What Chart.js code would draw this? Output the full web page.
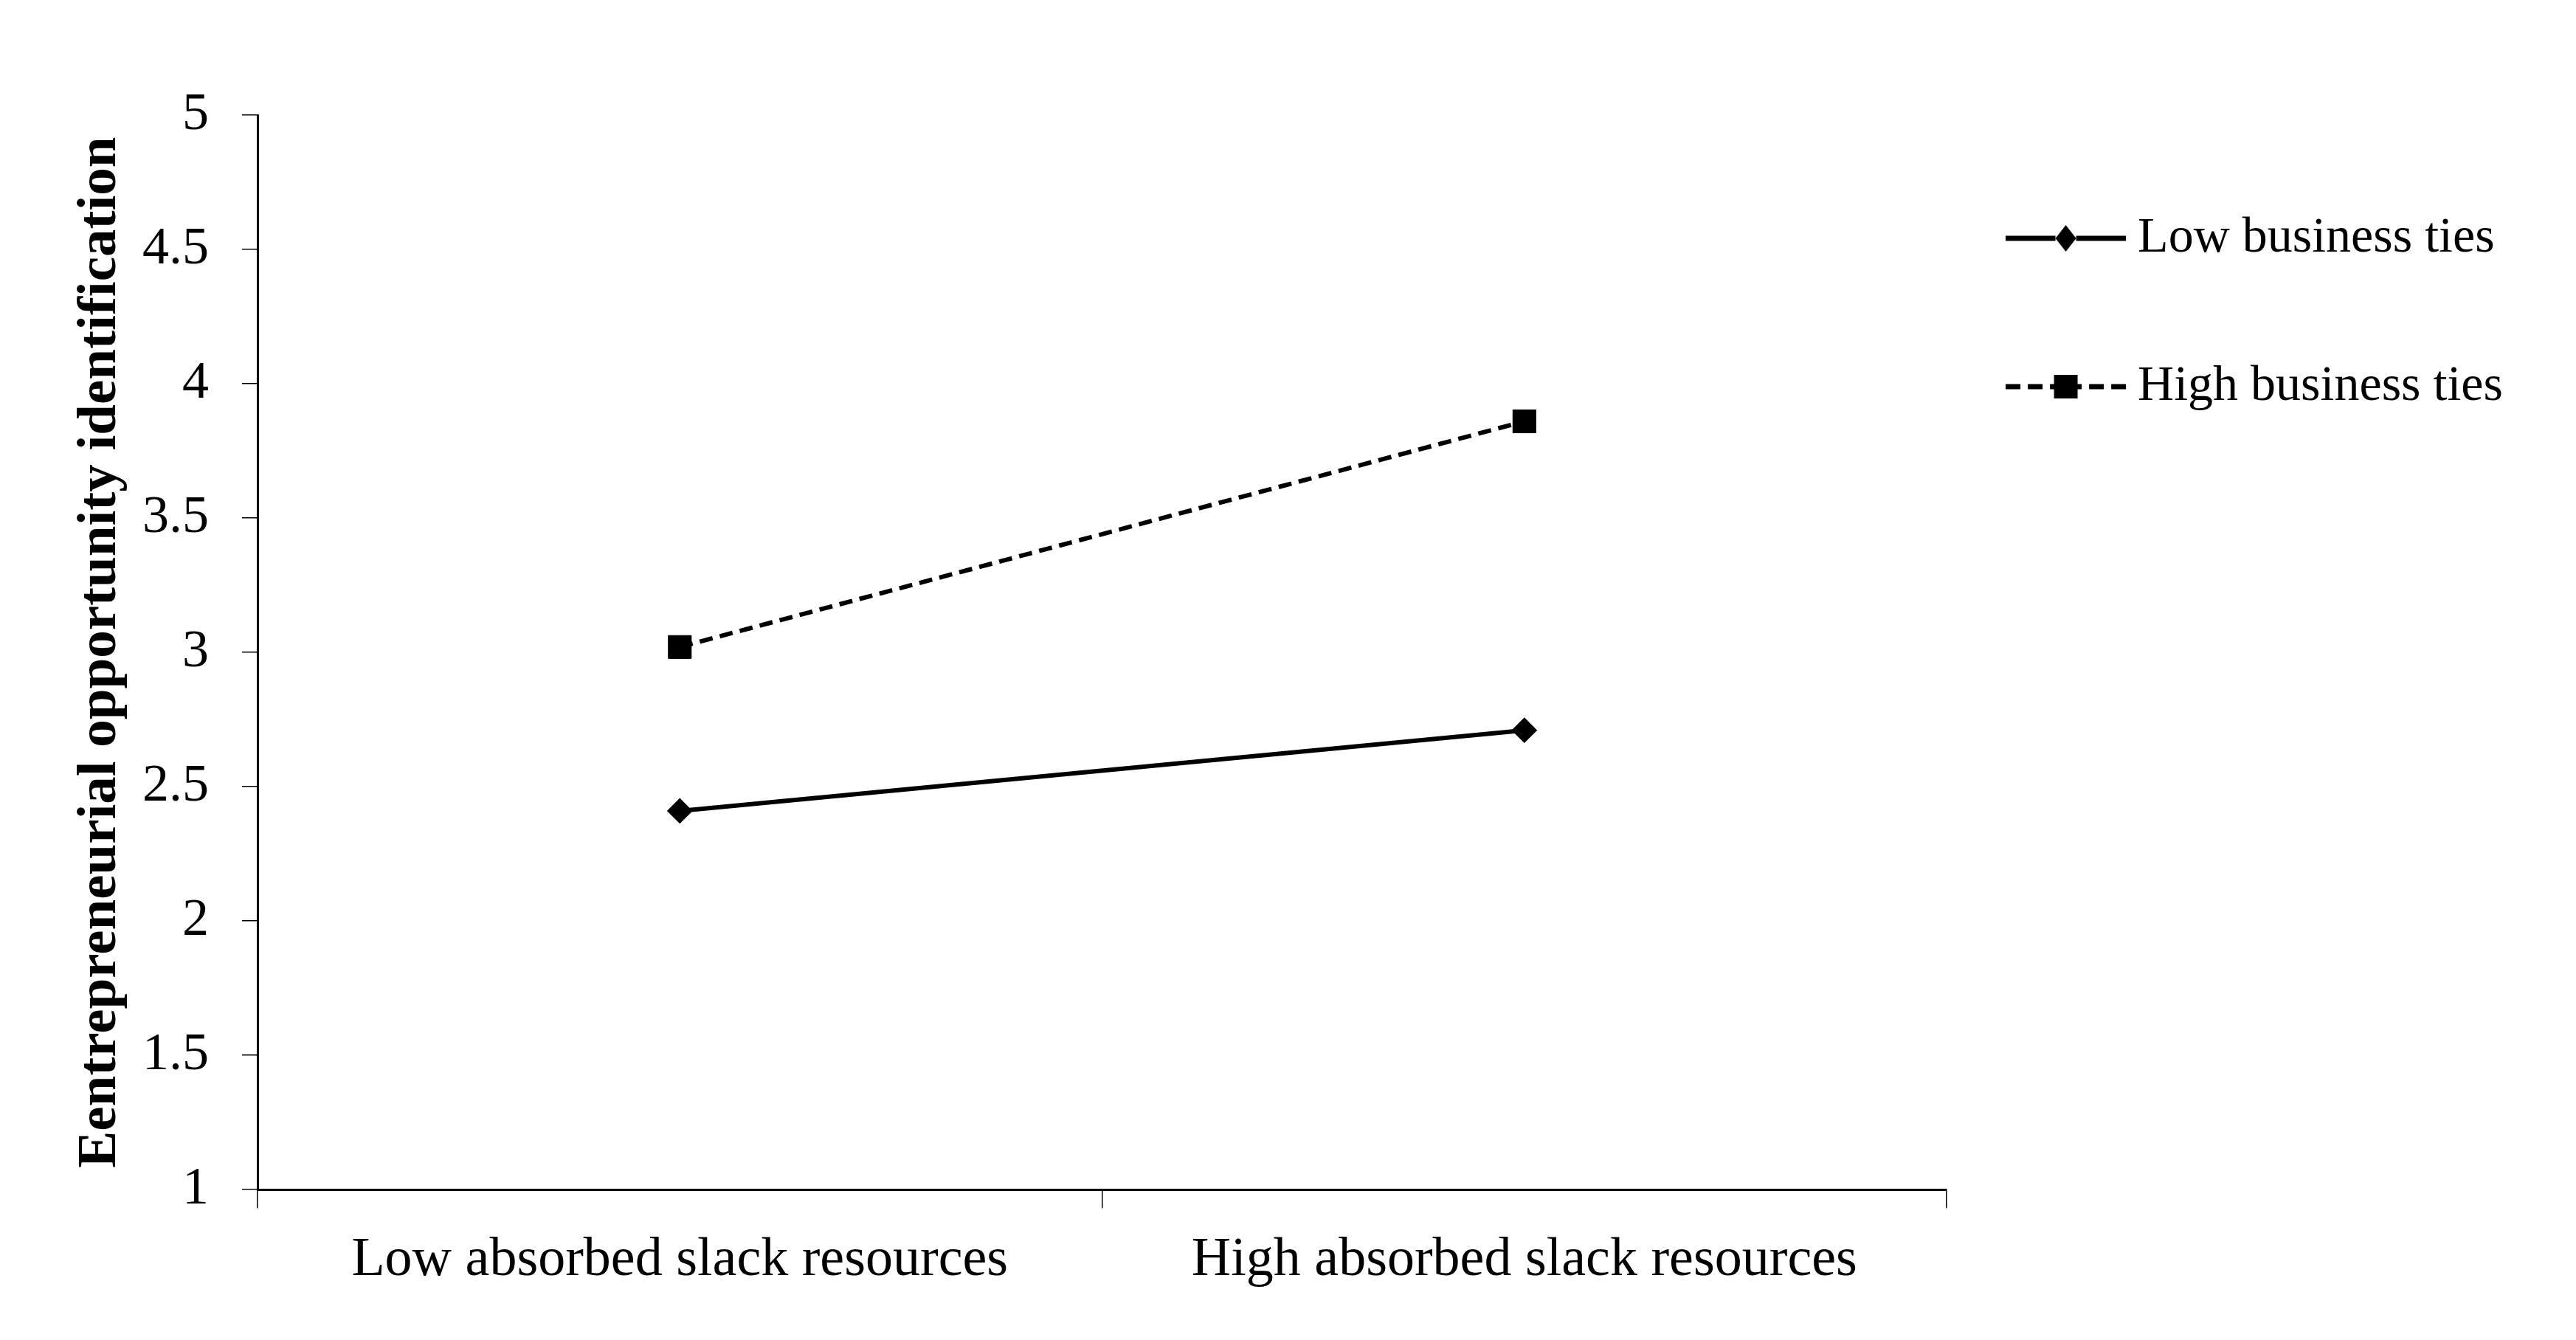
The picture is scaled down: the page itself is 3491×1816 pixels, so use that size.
<!DOCTYPE html>
<html>
<head>
<meta charset="utf-8">
<script src="https://cdn.jsdelivr.net/npm/chart.js@4.4.0/dist/chart.umd.min.js"></script>
<style>
    body { margin: 0; background: #fff; }
    canvas { display: block; }
</style>
</head>
<body>
<canvas id="interaction-chart" width="3491" height="1816"></canvas>
<script>
    "use strict";

    // Data
    const categories = ["Low absorbed slack resources", "High absorbed slack resources"];
    const lowTies = [2.41, 2.71];
    const highTies = [3.02, 3.86];
    const seriesNames = ["Low business ties", "High business ties"];
    const yTicks = [1, 1.5, 2, 2.5, 3, 3.5, 4, 4.5, 5];

    const serif = "'Liberation Serif', 'Times New Roman', serif";
    Chart.defaults.font.family = serif;
    Chart.defaults.color = "#000";

    // Legend symbol: line with marker in the middle
    var legendSymbol = function (dashed, marker) {
        const c = document.createElement("canvas");
        c.width = 198;
        c.height = 44;
        const g = c.getContext("2d");
        g.strokeStyle = "#000";
        g.fillStyle = "#000";
        g.lineWidth = 7;
        const len = 163, mid = len / 2, y = 22;
        if (dashed) g.setLineDash([20, 10]);
        g.beginPath();
        g.moveTo(0, y);
        g.lineTo(mid - 14, y);
        g.moveTo(len, y);
        g.lineTo(mid + 14, y);
        g.stroke();
        g.setLineDash([]);
        g.beginPath();
        if (marker === "square") {
            g.rect(mid - 16, y - 16, 32, 32);
        } else {
            g.moveTo(mid, y - 18);
            g.lineTo(mid + 14, y);
            g.lineTo(mid, y + 18);
            g.lineTo(mid - 14, y);
            g.closePath();
        }
        g.fill();
        return c;
    };
    const legendIcons = [legendSymbol(false, "diamond"), legendSymbol(true, "square")];

    const ctx = document.getElementById("interaction-chart").getContext("2d");
    const chart = new Chart(ctx, {
        type: "line",
        data: {
            labels: categories,
            datasets: [{
                    label: seriesNames[0],
                    data: lowTies,
                    borderColor: "#000",
                    backgroundColor: "#000",
                    borderWidth: 6,
                    pointStyle: "rectRot",
                    pointRadius: 16,
                    pointBorderWidth: 2,
                    fill: false,
                    tension: 0
                },
                {
                    label: seriesNames[1],
                    data: highTies,
                    borderColor: "#000",
                    backgroundColor: "#000",
                    borderWidth: 6,
                    borderDash: [18, 10],
                    pointStyle: "rect",
                    pointRadius: 22,
                    pointBorderWidth: 1,
                    fill: false,
                    tension: 0
                }
            ]
        },
        options: {
            responsive: false,
            animation: false,
            devicePixelRatio: 1,
            locale: "en-US",
            layout: {
                padding: { top: 156, right: 89, bottom: 36, left: 0 }
            },
            plugins: {
                tooltip: { enabled: false },
                legend: {
                    position: "right",
                    align: "start",
                    labels: {
                        font: { size: 68 },
                        color: "#000",
                        padding: 133,
                        usePointStyle: true,
                        pointStyleWidth: 92,
                        generateLabels: function (ch) {
                            const items = Chart.defaults.plugins.legend.labels.generateLabels(ch);
                            items.forEach(function (item, i) {
                                item.pointStyle = legendIcons[i];
                            });
                            return items;
                        }
                    }
                }
            },
            scales: {
                x: {
                    type: "category",
                    offset: true,
                    grid: {
                        offset: true,
                        drawOnChartArea: false,
                        tickLength: 25,
                        color: "#000",
                        lineWidth: 1.5
                    },
                    border: { color: "#000", width: 3 },
                    ticks: {
                        font: { size: 74 },
                        color: "#000",
                        padding: 27,
                        maxRotation: 0
                    }
                },
                y: {
                    min: yTicks[0],
                    max: yTicks[yTicks.length - 1],
                    afterBuildTicks: function (scale) {
                        scale.ticks = yTicks.map(function (v) { return { value: v }; });
                    },
                    afterFit: function (scale) {
                        scale.width = 349;
                    },
                    grid: {
                        drawOnChartArea: false,
                        tickLength: 21,
                        color: "#000",
                        lineWidth: 1.5
                    },
                    border: { color: "#000", width: 3 },
                    ticks: {
                        font: { size: 72 },
                        color: "#000",
                        padding: 45,
                        callback: function (value) {
                            return String(value);
                        }
                    },
                    title: {
                        display: true,
                        text: "Eentrepreneurial opportunity identification",
                        font: { size: 75, weight: "bold" },
                        color: "#000",
                        padding: { top: 92, bottom: 0 }
                    }
                }
            }
        }
    });
</script>
</body>
</html>
